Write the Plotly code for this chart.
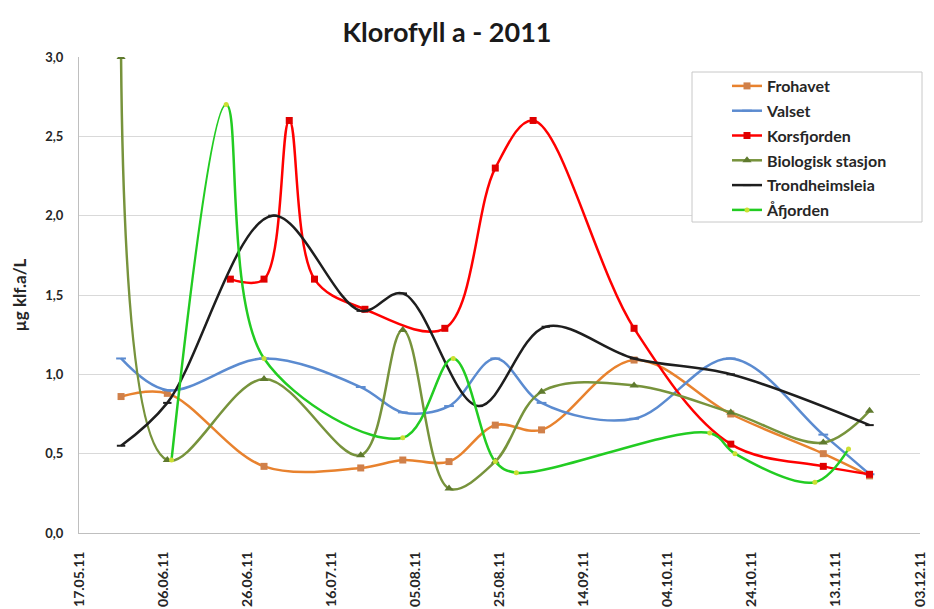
import plotly.graph_objects as go

# ---- data ----
series_names = ["Frohavet", "Valset", "Korsfjorden", "Biologisk stasjon", "Trondheimsleia", "Åfjorden"]

frohavet_dates = ["2011-05-27", "2011-06-07", "2011-06-30", "2011-07-23", "2011-08-02", "2011-08-13",
                  "2011-08-24", "2011-09-04", "2011-09-26", "2011-10-19", "2011-11-10", "2011-11-21"]
frohavet_vals = [0.86, 0.88, 0.42, 0.41, 0.46, 0.45, 0.68, 0.65, 1.09, 0.75, 0.50, 0.36]

valset_dates = ["2011-05-27", "2011-06-07", "2011-06-30", "2011-07-23", "2011-08-02", "2011-08-13",
                "2011-08-24", "2011-09-04", "2011-09-26", "2011-10-19", "2011-11-10", "2011-11-21"]
valset_vals = [1.10, 0.90, 1.10, 0.92, 0.76, 0.80, 1.10, 0.82, 0.72, 1.10, 0.62, 0.37]

korsfjorden_dates = ["2011-06-22", "2011-06-30", "2011-07-06", "2011-07-12", "2011-07-24", "2011-08-12",
                     "2011-08-24", "2011-09-02", "2011-09-26", "2011-10-19", "2011-11-10", "2011-11-21"]
korsfjorden_vals = [1.60, 1.60, 2.60, 1.60, 1.41, 1.29, 2.30, 2.60, 1.29, 0.56, 0.42, 0.37]

bio_dates = ["2011-05-27", "2011-06-07", "2011-06-30", "2011-07-23", "2011-08-02", "2011-08-13",
             "2011-08-24", "2011-09-04", "2011-09-26", "2011-10-19", "2011-11-10", "2011-11-21"]
bio_vals = [3.00, 0.46, 0.97, 0.49, 1.28, 0.28, 0.45, 0.89, 0.93, 0.76, 0.57, 0.77]

trondheim_dates = ["2011-05-27", "2011-06-07", "2011-07-02", "2011-07-23", "2011-08-02", "2011-08-20",
                   "2011-09-05", "2011-09-26", "2011-10-19", "2011-11-21"]
trondheim_vals = [0.55, 0.82, 2.00, 1.40, 1.51, 0.80, 1.30, 1.10, 1.00, 0.68]

afjorden_dates = ["2011-06-08", "2011-06-21", "2011-06-30", "2011-08-02", "2011-08-14", "2011-08-24",
                  "2011-08-29", "2011-10-14", "2011-10-20", "2011-11-08", "2011-11-16"]
afjorden_vals = [0.46, 2.70, 1.10, 0.60, 1.10, 0.45, 0.38, 0.63, 0.50, 0.32, 0.53]

y_ticks = [0.0, 0.5, 1.0, 1.5, 2.0, 2.5, 3.0]

# ---- styling ----
FONT = "Lato"
styles = [
    dict(line="#E8822E", marker=dict(symbol="square", size=7, color="#D0804A")),
    dict(line="#5B8BD0", marker=dict(symbol="line-ew", size=7, color="#5B8BD0", line=dict(width=2, color="#5B8BD0"))),
    dict(line="#FF0000", marker=dict(symbol="square", size=7, color="#E00000")),
    dict(line="#77933C", marker=dict(symbol="triangle-up", size=8, color="#5F7A2E")),
    dict(line="#1E1E1E", marker=dict(symbol="line-ew", size=6, color="#1E1E1E", line=dict(width=2, color="#1E1E1E"))),
    dict(line="#22CC22", marker=dict(symbol="circle", size=5, color="#CCE033")),
]
data = [
    (frohavet_dates, frohavet_vals),
    (valset_dates, valset_vals),
    (korsfjorden_dates, korsfjorden_vals),
    (bio_dates, bio_vals),
    (trondheim_dates, trondheim_vals),
    (afjorden_dates, afjorden_vals),
]

fig = go.Figure()
for name, (xs, ys), st in zip(series_names, data, styles):
    fig.add_trace(go.Scatter(
        x=xs, y=ys, name=name, mode="lines+markers", legendgroup=name,
        line=dict(color=st["line"], width=2.5, shape="spline", smoothing=1.0),
        marker=st["marker"],
    ))

# plot area in pixels: left 79, right 920, top 57, bottom 533
W, H = 934, 609
L, R, T, B = 79, 920, 57, 533
def px_x(p):
    return (p - L) / (R - L)
def px_y(p):
    return (B - p) / (B - T)

fig.update_layout(
    width=W, height=H,
    margin=dict(l=L, r=W - R, t=T, b=H - B),
    paper_bgcolor="white", plot_bgcolor="white",
    separators=",.",
    font=dict(family=FONT, color="#262626"),
    title=dict(text="Klorofyll a - 2011", x=447 / W, xref="container", xanchor="center",
               y=1 - 33 / H, yref="container", yanchor="middle",
               font=dict(family=FONT, size=27, weight="bold", color="#1a1a1a")),
    xaxis=dict(type="date", range=["2011-05-17", "2011-12-03"], tick0="2011-05-17",
               dtick=20 * 86400000, tickformat="%d.%m.%y", tickangle=-90,
               showgrid=False, showline=True, linecolor="#BFBFBF", linewidth=1,
               ticks="", ticklabelstandoff=12, automargin=False,
               tickfont=dict(family=FONT, size=14, weight="bold", color="#262626"), zeroline=False),
    yaxis=dict(range=[0, 3], tickvals=y_ticks, tickformat=".1f",
               showgrid=True, gridcolor="#D9D9D9", gridwidth=1,
               showline=True, linecolor="#BFBFBF", linewidth=1, zeroline=False,
               ticks="", ticklabelstandoff=12, automargin=False,
               tickfont=dict(family=FONT, size=13, weight="bold", color="#262626"),
               title=dict(text="µg klf.a/L", standoff=14,
                          font=dict(family=FONT, size=17, weight="bold", color="#262626"))),
    legend=dict(x=px_x(727), y=px_y(69), xanchor="left", yanchor="top",
                bgcolor="rgba(0,0,0,0)", borderwidth=0,
                traceorder="grouped", tracegroupgap=1, itemwidth=30,
                font=dict(family=FONT, size=16, weight="bold", color="#262626")),
    shapes=[dict(type="rect", xref="paper", yref="paper",
                 x0=px_x(692), x1=px_x(922), y0=px_y(222), y1=px_y(72),
                 line=dict(color="#C8C8C8", width=1), fillcolor="white", layer="above")],
    showlegend=True,
)

fig.write_html("out.html", config={"displayModeBar": False},
               post_script="document.body.style.margin='0';document.body.style.overflow='hidden';")
